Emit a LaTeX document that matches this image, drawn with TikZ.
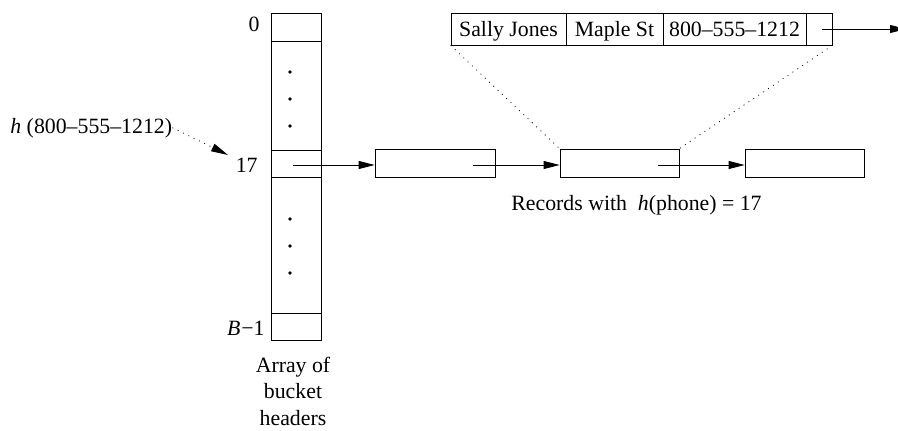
\documentclass[tikz,border=0pt]{standalone}
\usepackage{fontspec}
\setmainfont{Liberation Serif}
\usetikzlibrary{arrows.meta}
\begin{document}
\begin{tikzpicture}[x=1pt,y=-1pt, line width=0.8pt,
  txt/.style={font=\fontsize{21.8}{26.5}\selectfont, inner sep=0pt},
  box/.style={draw, inner sep=0pt},
  cell/.style={draw, inner sep=0pt, minimum height=32pt, text height=16pt, text depth=2pt, font=\fontsize{21.8}{26.5}\selectfont},
  ptr/.style={-{Triangle[length=16pt,width=8pt]}},
  dotl/.style={dash pattern=on 0.9pt off 5pt},
  dotnode/.style={circle, fill, inner sep=0pt, minimum size=3.6pt}]
\useasboundingbox (0,0) rectangle (898,431);
\clip (0,0) rectangle (898,431);

% array of bucket headers
\node[box, minimum width=50pt, minimum height=327pt] (arr) at (296,176.5) {};
\node[box, minimum width=50pt, minimum height=28pt] (r0) at (296,27) {};
\node[box, minimum width=50pt, minimum height=27pt] (r17) at (296,163.5) {};
\node[box, minimum width=50pt, minimum height=27pt] (rB) at (296,326.5) {};
\node[dotnode] (d1) at (290,72) {};
\node[dotnode] (d2) at (290,99) {};
\node[dotnode] (d3) at (290,126) {};
\node[dotnode] (d4) at (290,219) {};
\node[dotnode] (d5) at (290,246) {};
\node[dotnode] (d6) at (290,273) {};

\node[txt, anchor=east] (l0) at (260,24) {0};
\node[txt, anchor=east] (l17) at (258,165) {17};
\node[txt, anchor=east] (lB) at (265,328) {\textit{B}\kern1pt−1};

\node[txt, anchor=base west] (hl) at (10,133) {\textit{h} (800–555–1212)};
\coordinate (hend) at (228,155);
\draw[dotl, -{Triangle[length=17pt,width=8pt]}] (hl.east) -- (hend);

\node[txt, align=center, anchor=base] (al) at (293,425) {Array of\\bucket\\headers};

% chain of records
\node[box, minimum width=120pt, minimum height=28pt] (b1) at (435,163) {};
\node[box, minimum width=119pt, minimum height=28pt] (b2) at (619.5,163) {};
\node[box, minimum width=119pt, minimum height=28pt] (b3) at (804.5,163) {};

\coordinate (p0) at (293,165);
\coordinate (p1) at (473,165);
\coordinate (p2) at (658,165);
\draw[ptr] (p0) -- (p0 -| b1.west);
\draw[ptr] (p1) -- (p1 -| b2.west);
\draw[ptr] (p2) -- (p2 -| b3.west);

\node[txt, anchor=base west] (rt) at (511,210) {Records with\ \ \textit{h}(phone) = 17};

% expanded record
\node[cell, minimum width=115pt] (c1) at (508.5,29) {Sally Jones};
\node[cell, minimum width=97pt] (c2) at (614.5,29) {Maple St};
\node[cell, minimum width=143pt] (c3) at (734.5,29) {800–555–1212};
\node[cell, minimum width=26pt] (c4) at (819,29) {};
\coordinate (ra) at (822,29);
\coordinate (rend) at (906,29);
\draw[ptr] (ra) -- (rend);

\draw[dotl] (c1.south west) -- (b2.north west);
\draw[dotl] (c4.south east) -- (b2.north east);
\end{tikzpicture}
\end{document}
